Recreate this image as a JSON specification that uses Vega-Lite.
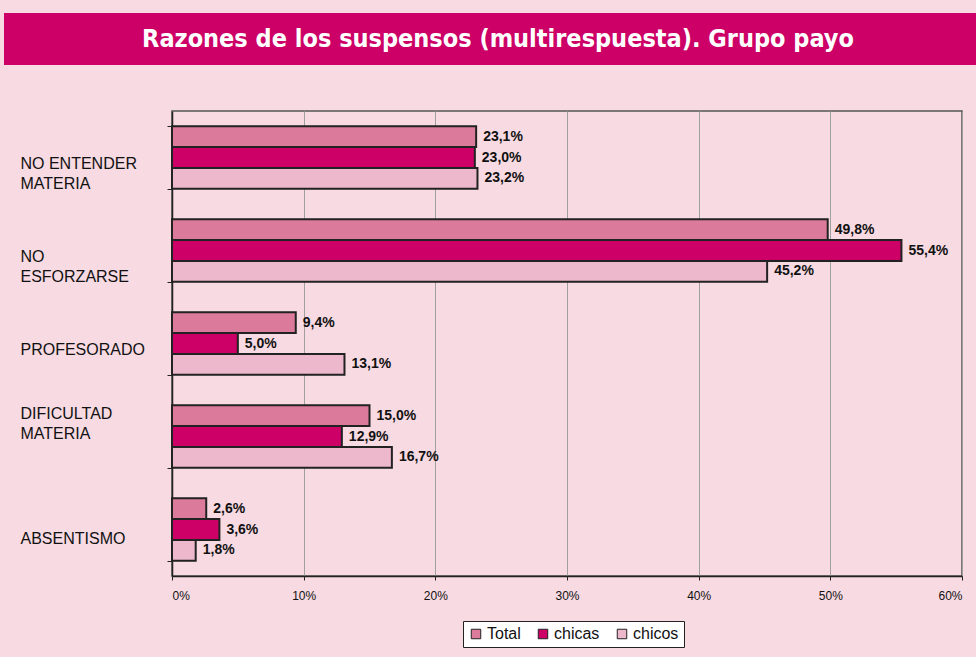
{
  "$schema": "https://vega.github.io/schema/vega-lite/v6.json",
  "background": "#F7DAE2",
  "padding": {"left": 4, "top": 13, "right": 0, "bottom": 9},
  "spacing": 37,
  "config": {
    "locale": {"number": {"decimal": ",", "thousands": ".", "grouping": [3], "currency": ["", " €"]}},
    "view": {"stroke": null}
  },
  "vconcat": [
    {
      "width": 972,
      "height": 52,
      "view": {"fill": "#CC0066", "stroke": null},
      "data": {"values": [{"t": "Razones de los suspensos (multirespuesta). Grupo payo"}]},
      "mark": {"type": "text", "font": "DejaVu Sans Condensed", "fontWeight": "bold", "fontSize": 25, "color": "white", "baseline": "middle", "align": "center", "dx": 8},
      "encoding": {"text": {"field": "t"}}
    },
    {
      "spacing": 0,
      "hconcat": [
        {
          "width": 1,
          "height": 465,
          "data": {"values": []},
          "mark": {"type": "point", "opacity": 0},
          "encoding": {}
        },
        {
          "width": 790,
          "height": 465,
          "view": {"stroke": "#555", "strokeWidth": 1.5},
          "data": {
            "values": [
              {"razon": "NO ENTENDER MATERIA", "grupo": "Total", "valor": 0.231},
              {"razon": "NO ENTENDER MATERIA", "grupo": "chicas", "valor": 0.230},
              {"razon": "NO ENTENDER MATERIA", "grupo": "chicos", "valor": 0.232},
              {"razon": "NO ESFORZARSE", "grupo": "Total", "valor": 0.498},
              {"razon": "NO ESFORZARSE", "grupo": "chicas", "valor": 0.554},
              {"razon": "NO ESFORZARSE", "grupo": "chicos", "valor": 0.452},
              {"razon": "PROFESORADO", "grupo": "Total", "valor": 0.094},
              {"razon": "PROFESORADO", "grupo": "chicas", "valor": 0.050},
              {"razon": "PROFESORADO", "grupo": "chicos", "valor": 0.131},
              {"razon": "DIFICULTAD MATERIA", "grupo": "Total", "valor": 0.150},
              {"razon": "DIFICULTAD MATERIA", "grupo": "chicas", "valor": 0.129},
              {"razon": "DIFICULTAD MATERIA", "grupo": "chicos", "valor": 0.167},
              {"razon": "ABSENTISMO", "grupo": "Total", "valor": 0.026},
              {"razon": "ABSENTISMO", "grupo": "chicas", "valor": 0.036},
              {"razon": "ABSENTISMO", "grupo": "chicos", "valor": 0.018}
            ]
          },
          "encoding": {
            "y": {
              "field": "razon",
              "type": "nominal",
              "sort": ["NO ENTENDER MATERIA", "NO ESFORZARSE", "PROFESORADO", "DIFICULTAD MATERIA", "ABSENTISMO"],
              "scale": {"paddingInner": 0.33, "paddingOuter": 0.165},
              "axis": {
                "title": null,
                "tickBand": "extent",
                "grid": false,
                "domainColor": "#222",
                "domainWidth": 1.5,
                "tickColor": "#222",
                "tickSize": 5,
                "labelAlign": "left",
                "labelBaseline": "middle",
                "labelPadding": 147,
                "labelFont": "Liberation Sans",
                "labelFontSize": 16,
                "labelColor": "#111",
                "labelLineHeight": 20,
                "labelLimit": 300,
                "minExtent": 166,
                "maxExtent": 400,
                "labelExpr": "datum.value == 'NO ENTENDER MATERIA' ? ['NO ENTENDER', 'MATERIA'] : datum.value == 'NO ESFORZARSE' ? ['NO', 'ESFORZARSE'] : datum.value == 'DIFICULTAD MATERIA' ? ['DIFICULTAD', 'MATERIA'] : datum.value",
                "labelOffset": {
                  "condition": [
                    {"test": "datum.value == 'DIFICULTAD MATERIA'", "value": -23},
                    {"test": "datum.value == 'ABSENTISMO'", "value": 9}
                  ],
                  "value": 6
                }
              }
            },
            "yOffset": {
              "field": "grupo",
              "type": "nominal",
              "sort": ["Total", "chicas", "chicos"],
              "scale": {"paddingInner": 0, "paddingOuter": 0}
            },
            "x": {
              "field": "valor",
              "type": "quantitative",
              "scale": {"domain": [0, 0.6], "nice": false},
              "axis": {
                "title": null,
                "format": ".0%",
                "values": [0, 0.1, 0.2, 0.3, 0.4, 0.5, 0.6],
                "grid": true,
                "gridColor": "#A0A0A0",
                "gridWidth": 1,
                "domainColor": "#222",
                "domainWidth": 1.5,
                "tickColor": "#222",
                "tickSize": 4,
                "labelPadding": 10,
                "labelFont": "Liberation Sans",
                "labelFontSize": 12,
                "labelColor": "#111"
              }
            }
          },
          "layer": [
            {
              "mark": {"type": "bar", "stroke": "#222", "strokeWidth": 2},
              "encoding": {
                "color": {
                  "field": "grupo",
                  "type": "nominal",
                  "sort": ["Total", "chicas", "chicos"],
                  "scale": {"domain": ["Total", "chicas", "chicos"], "range": ["#DB7A9B", "#CC0066", "#EDB8CB"]},
                  "legend": {
                    "title": null,
                    "orient": "none",
                    "legendX": 459,
                    "legendY": 608,
                    "direction": "horizontal",
                    "fillColor": "white",
                    "strokeColor": "#222",
                    "padding": 5,
                    "symbolType": "square",
                    "symbolSize": 90,
                    "symbolStrokeColor": "#222",
                    "symbolStrokeWidth": 1,
                    "labelFont": "Liberation Sans",
                    "labelFontSize": 16,
                    "labelColor": "#111",
                    "columnPadding": 14,
                    "labelOffset": 3
                  }
                }
              }
            },
            {
              "mark": {"type": "text", "align": "left", "baseline": "middle", "dx": 7, "font": "Liberation Sans", "fontWeight": "bold", "fontSize": 14, "color": "#111"},
              "encoding": {"text": {"field": "valor", "format": ".1%"}}
            }
          ]
        }
      ]
    }
  ]
}
